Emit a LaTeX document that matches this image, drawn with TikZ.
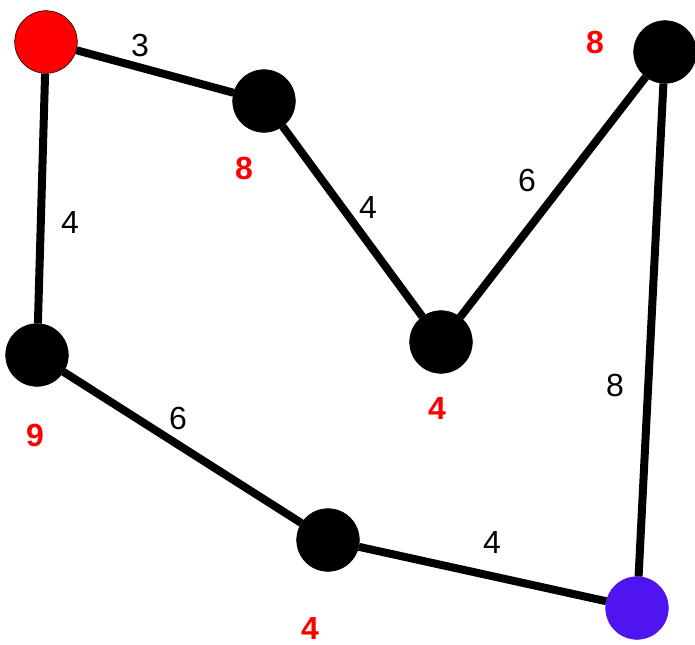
\documentclass[tikz,border=0pt]{standalone}
\usepackage{fontspec}
\setmainfont{Liberation Sans}
\begin{document}
\begin{tikzpicture}[x=0.75pt,y=-0.75pt,
  vert/.style={circle,fill=black,draw=black,inner sep=0pt,minimum size=47pt},
  edge/.style={line width=6pt},
  wlabel/.style={font=\fontsize{24}{26}\selectfont,text=black},
  rlabel/.style={font=\fontsize{24}{26}\selectfont\bfseries,text=red}]
\useasboundingbox (0,0) rectangle (695,644);
\node[vert,fill=red,draw=black] (r) at (46,42) {};
\node[vert] (a) at (264,101) {};
\node[vert] (b) at (441,342) {};
\node[vert] (c) at (665,52) {};
\node[vert] (d) at (37,355) {};
\node[vert] (e) at (328,540) {};
\node[vert,fill={rgb,255:red,80;green,20;blue,240},draw={rgb,255:red,80;green,20;blue,240}] (bl) at (637,608) {};
\draw[edge] (r) -- (a);
\draw[edge] (a) -- (b);
\draw[edge] (b) -- (c);
\draw[edge] (c) -- (bl);
\draw[edge] (r) -- (d);
\draw[edge] (d) -- (e);
\draw[edge] (e) -- (bl);
\node[wlabel] (w1) at (140,45) {3};
\node[wlabel] (w2) at (368,207) {4};
\node[wlabel] (w3) at (527,180) {6};
\node[wlabel] (w4) at (70,222) {4};
\node[wlabel] (w5) at (178,418) {6};
\node[wlabel] (w6) at (615,385) {8};
\node[wlabel] (w7) at (492,542) {4};
\node[rlabel] (d1) at (244,168) {8};
\node[rlabel] (d2) at (595,42) {8};
\node[rlabel] (d3) at (437,408) {4};
\node[rlabel] (d4) at (35,435) {9};
\node[rlabel] (d5) at (310,628) {4};
\end{tikzpicture}
\end{document}
